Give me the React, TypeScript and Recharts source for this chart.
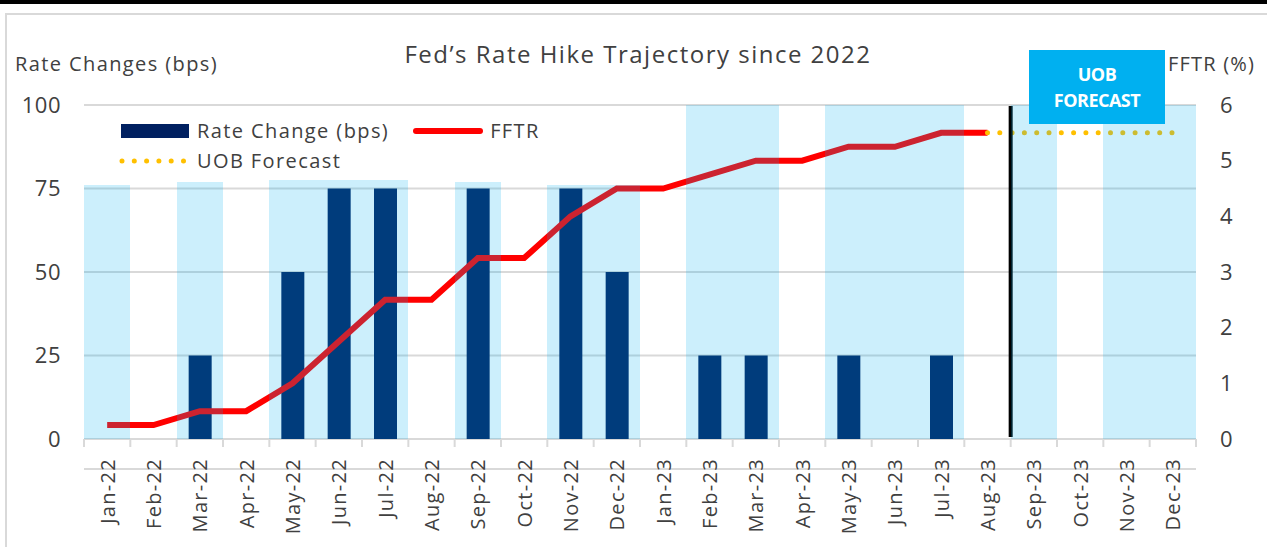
import React from 'react';
import { ComposedChart, Bar, Line, XAxis, YAxis, CartesianGrid, ReferenceLine } from 'recharts';

const months = [
  'Jan-22', 'Feb-22', 'Mar-22', 'Apr-22', 'May-22', 'Jun-22', 'Jul-22', 'Aug-22',
  'Sep-22', 'Oct-22', 'Nov-22', 'Dec-22', 'Jan-23', 'Feb-23', 'Mar-23', 'Apr-23',
  'May-23', 'Jun-23', 'Jul-23', 'Aug-23', 'Sep-23', 'Oct-23', 'Nov-23', 'Dec-23',
];

// bps hike decided in each month
const rateChange = [null, null, 25, null, 50, 75, 75, null, 75, null, 75, 50, null, 25, 25, null, 25, null, 25, null, null, null, null, null];

// fed funds target rate, upper bound (%)
const fftr = [0.25, 0.25, 0.5, 0.5, 1, 1.75, 2.5, 2.5, 3.25, 3.25, 4, 4.5, 4.5, 4.75, 5, 5, 5.25, 5.25, 5.5, 5.5, null, null, null, null];

const uobForecast = [null, null, null, null, null, null, null, null, null, null, null, null, null, null, null, null, null, null, null, 5.5, 5.5, 5.5, 5.5, 5.5];

// shaded FOMC meeting months (left axis scale)
const fomcShade = [76, null, 77, null, 77.5, 77.5, 77.5, null, 77, null, 76, 76, null, 100, 100, null, 100, 100, 100, null, 100, null, 100, 100];

const leftTicks = [0, 25, 50, 75, 100];
const rightTicks = [0, 1, 2, 3, 4, 5, 6];

const data = months.map((month, i) => ({
  month,
  rateChange: rateChange[i],
  fftr: fftr[i],
  forecast: uobForecast[i],
  shade: fomcShade[i],
}));

const FONT = '"Open Sans", sans-serif';
const TEXT = '#404040';
const GRID = '#D9D9D9';
const AXIS_Y = 439;
const PLOT_W = 1267 - 84 - 71;
const HALF_BAND = PLOT_W / months.length / 2;

function MonthTick(props: any) {
  const { x, payload, index } = props;
  return (
    <g>
      <line x1={x - HALF_BAND} x2={x - HALF_BAND} y1={AXIS_Y} y2={AXIS_Y + 8} stroke={GRID} strokeWidth={2} />
      {index === months.length - 1 && (
        <line x1={x + HALF_BAND} x2={x + HALF_BAND} y1={AXIS_Y} y2={AXIS_Y + 8} stroke={GRID} strokeWidth={2} />
      )}
      <text
        transform={`translate(${x},${AXIS_Y + 19}) rotate(-90)`}
        textAnchor="end"
        dominantBaseline="central"
        fill={TEXT}
        fontSize={20}
        letterSpacing={1.3}
        fontFamily={FONT}
      >
        {payload.value}
      </text>
    </g>
  );
}

function Divider(p: any) {
  return <line x1={p.x1} x2={p.x2} y1={p.y1 - 2} y2={p.y2 + 1} stroke="#000" strokeWidth={4} />;
}

// full-width band around the bar centre, snapped to whole pixels so neighbours meet cleanly
function Shade(p: any) {
  if (!p.height) return null;
  const cx = p.x + p.width / 2;
  const x0 = Math.round(cx - HALF_BAND);
  const x1 = Math.round(cx + HALF_BAND);
  const y0 = Math.round(p.y);
  const y1 = Math.round(p.y + p.height);
  return <rect x={x0} y={y0} width={x1 - x0} height={y1 - y0} fill="#00B0F0" fillOpacity={0.2} />;
}

export default function App() {
  return (
    <div style={{ position: 'absolute', top: 0, left: 0, width: 1267, height: 547, overflow: 'hidden', background: '#fff', fontFamily: FONT }}>
      <div style={{ position: 'absolute', top: 0, left: 0, width: 1267, height: 4, background: '#000' }} />
      <div style={{ position: 'absolute', top: 13, left: 5, width: 1300, height: 600, border: `2px solid ${GRID}` }} />

      <div style={{ position: 'absolute', top: 37, left: 0, width: 1276, textAlign: 'center', fontSize: 24, letterSpacing: 1.5, color: TEXT }}>
        Fed’s Rate Hike Trajectory since 2022
      </div>
      <div style={{ position: 'absolute', top: 50, left: 15, fontSize: 20, letterSpacing: 1.4, color: TEXT }}>Rate Changes (bps)</div>
      <div style={{ position: 'absolute', top: 50, left: 1168, fontSize: 20, letterSpacing: 1.2, color: TEXT }}>FFTR (%)</div>

      <div style={{ position: 'absolute', top: 0, left: 0 }}>
        <ComposedChart
          width={1267}
          height={547}
          data={data}
          margin={{ top: 105, right: 0, bottom: 8, left: 0 }}
          barCategoryGap="0%"
        >
          <CartesianGrid yAxisId="left" vertical={false} stroke={GRID} strokeWidth={2} />
          <XAxis
            xAxisId="main"
            dataKey="month"
            interval={0}
            height={100}
            tickSize={0}
            tickMargin={0}
            axisLine={{ stroke: GRID, strokeWidth: 2 }}
            tickLine={false}
            tick={<MonthTick />}
          />
          <XAxis xAxisId="bg" dataKey="month" hide />
          <YAxis
            yAxisId="left"
            width={84}
            domain={[0, 100]}
            ticks={leftTicks}
            axisLine={false}
            tickLine={false}
            tickSize={0}
            tickMargin={23}
            tick={{ fill: TEXT, fontSize: 22, fontFamily: FONT, letterSpacing: 0.5 }}
          />
          <YAxis
            yAxisId="right"
            orientation="right"
            width={71}
            domain={[0, 6]}
            ticks={rightTicks}
            axisLine={false}
            tickLine={false}
            tickSize={0}
            tickMargin={24}
            tick={{ fill: TEXT, fontSize: 22, fontFamily: FONT }}
          />
          <Bar xAxisId="main" yAxisId="left" dataKey="rateChange" fill="#002060" barSize={23} isAnimationActive={false} />
          <Line
            xAxisId="main"
            yAxisId="right"
            dataKey="fftr"
            stroke="#FF0000"
            strokeWidth={6}
            dot={false}
            activeDot={false}
            isAnimationActive={false}
          />
          <Line
            xAxisId="main"
            yAxisId="right"
            dataKey="forecast"
            stroke="#FFC000"
            strokeWidth={5}
            strokeDasharray="0 12.3"
            strokeLinecap="round"
            dot={false}
            activeDot={false}
            isAnimationActive={false}
          />
          <ReferenceLine xAxisId="main" yAxisId="left" x="Sep-23" position="start" shape={Divider} />
          <Bar xAxisId="bg" yAxisId="left" dataKey="shade" shape={<Shade />} isAnimationActive={false} zIndex={1000} />
        </ComposedChart>
      </div>

      <div style={{ position: 'absolute', left: 118, top: 116, fontSize: 20, letterSpacing: 1.4, color: TEXT, lineHeight: '30px' }}>
        <div style={{ display: 'flex', alignItems: 'center' }}>
          <span style={{ display: 'inline-block', width: 68, height: 14, background: '#002060', marginLeft: 3, marginRight: 8 }} />
          <span>Rate Change (bps)</span>
          <span style={{ display: 'inline-block', width: 70, height: 6, borderRadius: 3, background: '#FF0000', marginLeft: 24, marginRight: 7 }} />
          <span>FFTR</span>
        </div>
        <div style={{ display: 'flex', alignItems: 'center' }}>
          <svg width={79} height={10}>
            <line x1={4} x2={70} y1={5} y2={5} stroke="#FFC000" strokeWidth={5} strokeDasharray="0 12.3" strokeLinecap="round" />
          </svg>
          <span>UOB Forecast</span>
        </div>
      </div>

      <div
        style={{
          position: 'absolute', left: 1029, top: 50, width: 136, height: 74, background: '#00B0F0',
          color: '#fff', fontWeight: 700, fontSize: 18, lineHeight: '26px', textAlign: 'center',
          display: 'flex', flexDirection: 'column', justifyContent: 'center', letterSpacing: -0.5,
        }}
      >
        <div>UOB</div>
        <div>FORECAST</div>
      </div>
    </div>
  );
}
